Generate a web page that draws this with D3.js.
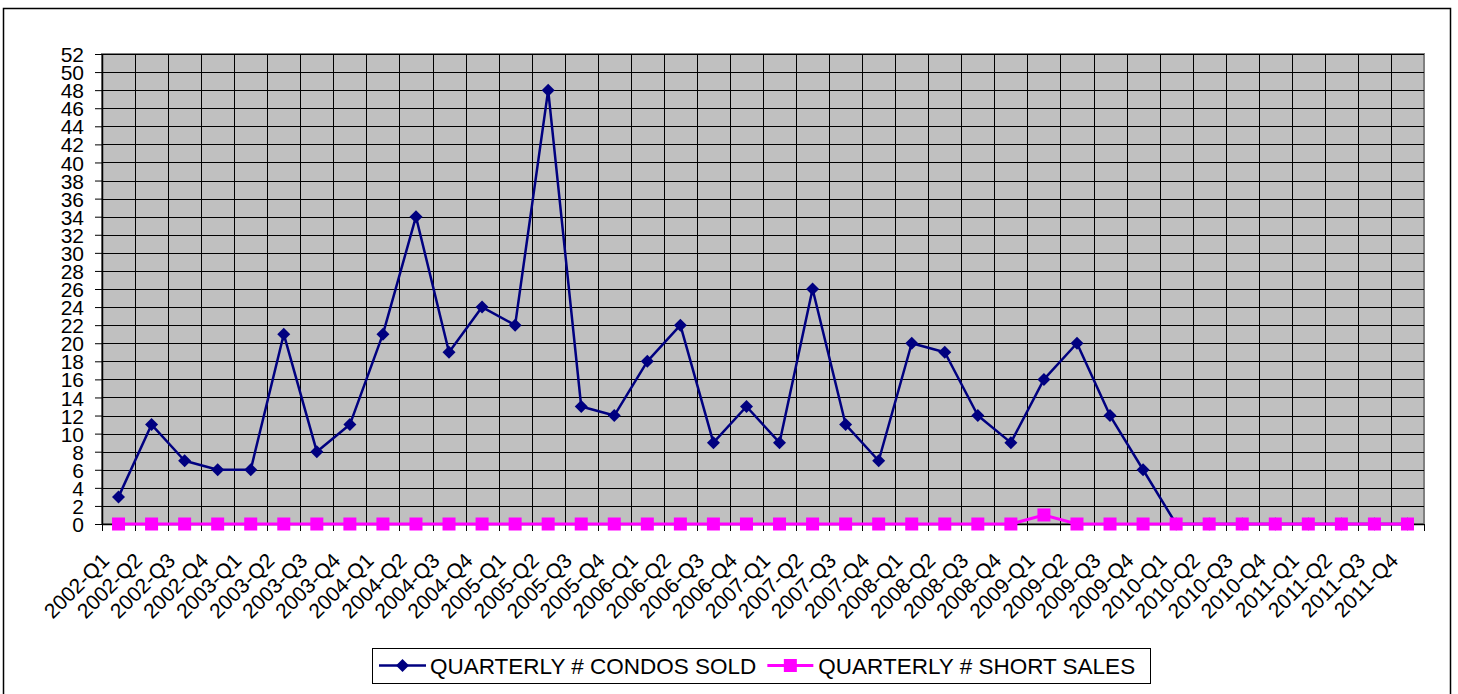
<!DOCTYPE html>
<meta charset="utf-8">
<style>
  body { margin: 0; background: white; }
  text { font-family: "Liberation Sans", Arial, sans-serif; fill: black; }
</style>
<script src="https://d3js.org/d3.v7.min.js"></script>
<body>
<div id="chart"></div>
<script>
// categories
var quarters = [
  "2002-Q1","2002-Q2","2002-Q3","2002-Q4",
  "2003-Q1","2003-Q2","2003-Q3","2003-Q4",
  "2004-Q1","2004-Q2","2004-Q3","2004-Q4",
  "2005-Q1","2005-Q2","2005-Q3","2005-Q4",
  "2006-Q1","2006-Q2","2006-Q3","2006-Q4",
  "2007-Q1","2007-Q2","2007-Q3","2007-Q4",
  "2008-Q1","2008-Q2","2008-Q3","2008-Q4",
  "2009-Q1","2009-Q2","2009-Q3","2009-Q4",
  "2010-Q1","2010-Q2","2010-Q3","2010-Q4",
  "2011-Q1","2011-Q2","2011-Q3","2011-Q4"
];
// series values
var condosSold = [
  3, 11, 7, 6,
  6, 21, 8, 11,
  21, 34, 19, 24,
  22, 48, 13, 12,
  18, 22, 9, 13,
  9, 26, 11, 7,
  20, 19, 12, 9,
  16, 20, 12, 6,
  0, 0, 0, 0,
  0, 0, 0, 0
];
var shortSales = [
  0, 0, 0, 0,
  0, 0, 0, 0,
  0, 0, 0, 0,
  0, 0, 0, 0,
  0, 0, 0, 0,
  0, 0, 0, 0,
  0, 0, 0, 0,
  1, 0, 0, 0,
  0, 0, 0, 0,
  0, 0, 0, 0
];
var yTicks = [0,2,4,6,8,10,12,14,16,18,20,22,24,26,28,30,32,34,36,38,40,42,44,46,48,50,52];
var seriesNames = ["QUARTERLY # CONDOS SOLD", "QUARTERLY # SHORT SALES"];

var W = 1458, H = 694;
var plot = {left: 102, right: 1424, top: 54, bottom: 524};

var svg = d3.select("#chart").append("svg")
  .attr("width", W).attr("height", H);

// outer chart border
svg.append("rect")
  .attr("x", 3.5).attr("y", 8.5)
  .attr("width", 1447).attr("height", 700)
  .attr("fill", "white").attr("stroke", "black").attr("stroke-width", 1.5);

var x = d3.scaleBand().domain(quarters).range([plot.left, plot.right]);
var y = d3.scaleLinear().domain([0, 52]).range([plot.bottom, plot.top]);
var cx = function(i) { return x(quarters[i]) + x.bandwidth() / 2; };

// plot area
svg.append("rect")
  .attr("x", plot.left).attr("y", plot.top)
  .attr("width", plot.right - plot.left).attr("height", plot.bottom - plot.top)
  .attr("fill", "#C0C0C0").attr("stroke", "#808080").attr("stroke-width", 2);

// horizontal gridlines
svg.append("g").selectAll("line")
  .data(yTicks.slice(1))
  .enter().append("line")
    .attr("x1", plot.left).attr("x2", plot.right)
    .attr("y1", function(d) { return Math.round(y(d)) + 0.5; })
    .attr("y2", function(d) { return Math.round(y(d)) + 0.5; })
    .attr("stroke", "black").attr("stroke-width", 1);

// vertical gridlines at category boundaries
svg.append("g").selectAll("line")
  .data(quarters.slice(1))
  .enter().append("line")
    .attr("x1", function(d) { return Math.round(x(d)) + 0.5; })
    .attr("x2", function(d) { return Math.round(x(d)) + 0.5; })
    .attr("y1", plot.top).attr("y2", plot.bottom)
    .attr("stroke", "black").attr("stroke-width", 1);

// y axis
var yAxis = svg.append("g")
  .attr("transform", "translate(" + plot.left + ",0)")
  .call(d3.axisLeft(y).tickValues(yTicks).tickSize(7).tickPadding(11).tickSizeOuter(0));
yAxis.select(".domain").attr("stroke", "black").attr("stroke-width", 1.5);
yAxis.selectAll(".tick line").attr("stroke", "black");
yAxis.selectAll(".tick text")
  .attr("font-size", "21px")
  .attr("font-family", "Liberation Sans, Arial, sans-serif")
  .attr("fill", "black")
  .attr("dy", "0.36em");

// x axis line and ticks
svg.append("line")
  .attr("x1", plot.left).attr("x2", plot.right)
  .attr("y1", plot.bottom + 0.5).attr("y2", plot.bottom + 0.5)
  .attr("stroke", "black").attr("stroke-width", 1.5);
svg.append("g").selectAll("line")
  .data(quarters.concat(["end"]))
  .enter().append("line")
    .attr("x1", function(d, i) { return Math.round(plot.left + i * x.bandwidth()) + 0.5; })
    .attr("x2", function(d, i) { return Math.round(plot.left + i * x.bandwidth()) + 0.5; })
    .attr("y1", plot.bottom).attr("y2", plot.bottom + 7)
    .attr("stroke", "black").attr("stroke-width", 1);

// rotated category labels
svg.append("g").selectAll("text")
  .data(quarters)
  .enter().append("text")
    .attr("transform", function(d, i) {
      return "translate(" + (cx(i) - 8) + "," + (plot.bottom + 38) + ") rotate(-45)";
    })
    .attr("text-anchor", "end")
    .attr("font-size", "21px")
    .text(function(d) { return d; });

// series lines
var line = d3.line()
  .x(function(d, i) { return cx(i); })
  .y(function(d) { return y(d); });

var navy = "#000080", magenta = "#FF00FF";

svg.append("path")
  .datum(condosSold)
  .attr("d", line)
  .attr("fill", "none").attr("stroke", navy).attr("stroke-width", 2.5)
  .attr("stroke-linejoin", "round");

var diamond = d3.symbol().type(d3.symbolDiamond).size(80);
var sq = 13;

svg.append("g").selectAll("path")
  .data(condosSold)
  .enter().append("path")
    .attr("d", function(d) { return "M0,-6.5L6.5,0L0,6.5L-6.5,0Z"; })
    .attr("transform", function(d, i) { return "translate(" + cx(i) + "," + y(d) + ")"; })
    .attr("fill", navy);

svg.append("path")
  .datum(shortSales)
  .attr("d", line)
  .attr("fill", "none").attr("stroke", magenta).attr("stroke-width", 3);

svg.append("g").selectAll("rect")
  .data(shortSales)
  .enter().append("rect")
    .attr("x", function(d, i) { return cx(i) - sq / 2; })
    .attr("y", function(d) { return y(d) - sq / 2; })
    .attr("width", sq).attr("height", sq)
    .attr("fill", magenta);

// legend
var legend = svg.append("g");
legend.append("rect")
  .attr("x", 372.5).attr("y", 648.5)
  .attr("width", 778).attr("height", 35)
  .attr("fill", "white").attr("stroke", "black").attr("stroke-width", 1);

var ly = 665.5;
// condos sold entry
legend.append("line")
  .attr("x1", 379).attr("x2", 426).attr("y1", ly).attr("y2", ly)
  .attr("stroke", navy).attr("stroke-width", 2.5);
legend.append("path")
  .attr("d", "M0,-6.5L6.5,0L0,6.5L-6.5,0Z")
  .attr("transform", "translate(402.5," + ly + ")")
  .attr("fill", navy);
var t1 = legend.append("text")
  .attr("x", 430).attr("y", ly + 8)
  .attr("font-size", "22.5px")
  .text(seriesNames[0]);

// short sales entry
var t1end = 430 + t1.node().getComputedTextLength();
var l2 = t1end + 11;
legend.append("line")
  .attr("x1", l2).attr("x2", l2 + 46).attr("y1", ly).attr("y2", ly)
  .attr("stroke", magenta).attr("stroke-width", 3);
legend.append("rect")
  .attr("x", l2 + 23 - sq / 2).attr("y", ly - sq / 2)
  .attr("width", sq).attr("height", sq)
  .attr("fill", magenta);
legend.append("text")
  .attr("x", l2 + 51).attr("y", ly + 8)
  .attr("font-size", "22.5px")
  .text(seriesNames[1]);
</script>
</body>
